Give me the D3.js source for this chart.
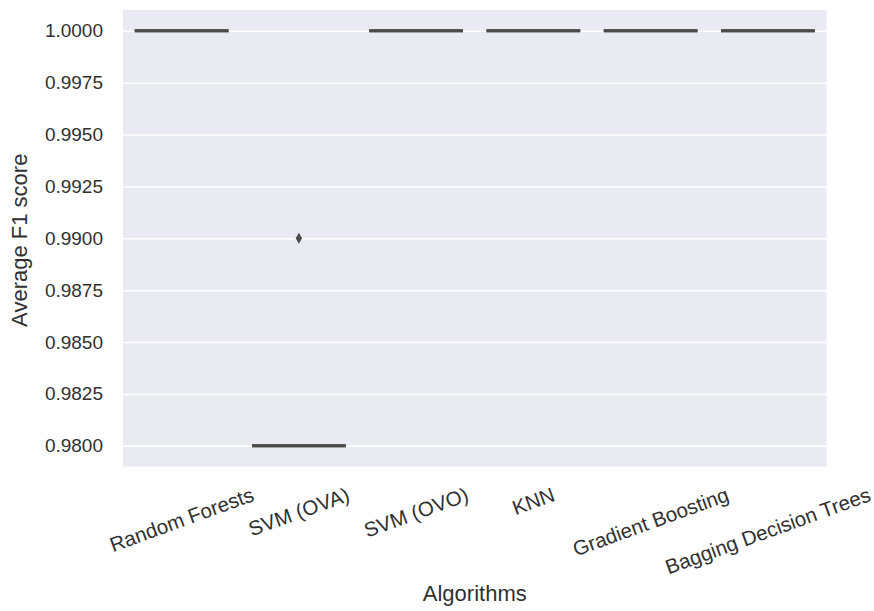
<!DOCTYPE html>
<html>
<head>
<meta charset="utf-8">
<script src="https://cdn.jsdelivr.net/npm/d3@7"></script>
<style>
  body { margin: 0; background: #fff; }
  text { font-family: Arial, "Liberation Sans", sans-serif; fill: #303030; }
</style>
</head>
<body>
<div class="chart"></div>
<script>
// box summaries (all folds equal except SVM (OVA))
let algorithms = ["Random Forests", "SVM (OVA)", "SVM (OVO)", "KNN", "Gradient Boosting", "Bagging Decision Trees"];
let q1s = [1.0, 0.98, 1.0, 1.0, 1.0, 1.0];
let medians = [1.0, 0.98, 1.0, 1.0, 1.0, 1.0];
let q3s = [1.0, 0.98, 1.0, 1.0, 1.0, 1.0];
let whiskLo = [1.0, 0.98, 1.0, 1.0, 1.0, 1.0];
let whiskHi = [1.0, 0.98, 1.0, 1.0, 1.0, 1.0];
let fliers = [[], [0.99], [], [], [], []];
let yTicks = [0.98, 0.9825, 0.985, 0.9875, 0.99, 0.9925, 0.995, 0.9975, 1.0];
let palette = ["#4c72b0", "#dd8452", "#55a868", "#c44e52", "#8172b3", "#937860"];

let chart = {};

chart.width = 874;
chart.height = 611;
chart.panel = { left: 123, right: 826.5, top: 10, bottom: 466.5 };
chart.gray = "#4c4c4c";

let boxes = algorithms.map((name, i) => {
    return {
        name: name,
        q1: q1s[i],
        med: medians[i],
        q3: q3s[i],
        lo: whiskLo[i],
        hi: whiskHi[i],
        fliers: fliers[i],
        color: palette[i]
    };
});

chart.svg = d3.select(".chart").append("svg")
    .attr("width", chart.width)
    .attr("height", chart.height);

chart.xScale = d3.scaleBand()
    .domain(algorithms)
    .range([chart.panel.left, chart.panel.right])
    .padding(0);

chart.yScale = d3.scaleLinear()
    .domain([0.979, 1.001])
    .range([chart.panel.bottom, chart.panel.top]);

// panel background
chart.svg.append("rect")
    .attr("x", chart.panel.left)
    .attr("y", chart.panel.top)
    .attr("width", chart.panel.right - chart.panel.left)
    .attr("height", chart.panel.bottom - chart.panel.top)
    .attr("fill", "#eaeaf2");

// y axis with white grid lines
chart.yAxis = chart.svg.append("g")
    .attr("transform", `translate(${chart.panel.left},0)`)
    .call(
        d3.axisLeft(chart.yScale)
        .tickValues(yTicks)
        .tickSize(-(chart.panel.right - chart.panel.left))
        .tickPadding(20)
        .tickFormat(d3.format(".4f"))
    );

chart.yAxis.select(".domain").remove();
chart.yAxis.selectAll(".tick line")
    .attr("stroke", "#fff")
    .attr("stroke-width", 1.5);
chart.yAxis.selectAll(".tick text")
    .attr("fill", "#303030")
    .style("font-size", "19px")
    .style("font-family", "Arial, 'Liberation Sans', sans-serif");

// boxes
let boxW = chart.xScale.bandwidth() * 0.8;
let cx = d => chart.xScale(d.name) + chart.xScale.bandwidth() / 2;

let groups = chart.svg.selectAll(".box")
    .data(boxes)
    .enter()
    .append("g")
    .attr("class", "box");

// whiskers
groups.append("line")
    .attr("x1", cx).attr("x2", cx)
    .attr("y1", d => chart.yScale(d.lo))
    .attr("y2", d => chart.yScale(d.q1))
    .attr("stroke", chart.gray).attr("stroke-width", 3);

groups.append("line")
    .attr("x1", cx).attr("x2", cx)
    .attr("y1", d => chart.yScale(d.q3))
    .attr("y2", d => chart.yScale(d.hi))
    .attr("stroke", chart.gray).attr("stroke-width", 3);

let outline = d3.line();

groups.append("path")
    .attr("d", d => {
        let x0 = cx(d) - boxW / 2, x1 = cx(d) + boxW / 2;
        let ya = chart.yScale(d.q3), yb = chart.yScale(d.q1);
        return outline([[x0, ya], [x1, ya], [x1, yb], [x0, yb]]) + "Z";
    })
    .attr("fill", d => d.color)
    .attr("stroke", chart.gray)
    .attr("stroke-width", 3)
    .attr("stroke-linejoin", "miter");

groups.append("line")
    .attr("x1", d => cx(d) - boxW / 2)
    .attr("x2", d => cx(d) + boxW / 2)
    .attr("y1", d => chart.yScale(d.med))
    .attr("y2", d => chart.yScale(d.med))
    .attr("stroke", chart.gray)
    .attr("stroke-width", 3);

// outliers as thin diamonds
groups.selectAll(".flier")
    .data(d => d.fliers.map(v => ({ x: cx(d), v: v })))
    .enter()
    .append("path")
    .attr("class", "flier")
    .attr("d", p => {
        let x = p.x, y = chart.yScale(p.v);
        return `M${x},${y - 5.5}L${x + 3.2},${y}L${x},${y + 5.5}L${x - 3.2},${y}Z`;
    })
    .attr("fill", chart.gray);

// rotated category labels, bbox top-centred under each band
let sin = Math.sin(20 * Math.PI / 180), cos = Math.cos(20 * Math.PI / 180);
let fs = 20.5;
chart.svg.selectAll(".xlabel")
    .data(boxes)
    .enter()
    .append("text")
    .attr("class", "xlabel")
    .style("font-size", fs + "px")
    .attr("text-anchor", "middle")
    .attr("dy", "0.35em")
    .text(d => d.name)
    .attr("transform", function(d) {
        let w = this.getComputedTextLength();
        let bh = w * sin + fs * 0.95 * cos;
        let y = chart.panel.bottom + 18 + bh / 2;
        return `translate(${cx(d)},${y}) rotate(-20)`;
    });

chart.svg.append("text")
    .attr("x", (chart.panel.left + chart.panel.right) / 2)
    .attr("y", 601)
    .attr("text-anchor", "middle")
    .style("font-size", "22px")
    .text("Algorithms");

chart.svg.append("text")
    .attr("transform", `translate(27,${(chart.panel.top + chart.panel.bottom) / 2 + 2}) rotate(-90)`)
    .attr("text-anchor", "middle")
    .style("font-size", "22px")
    .text("Average F1 score");
</script>
</body>
</html>
